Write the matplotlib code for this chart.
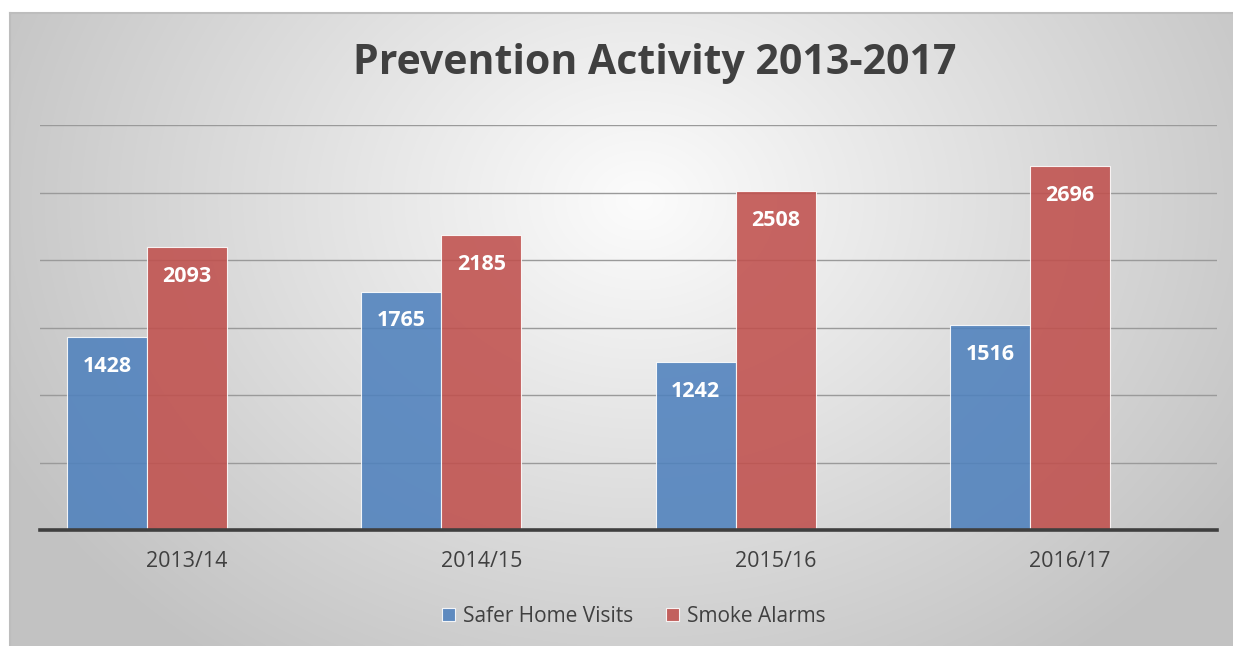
import matplotlib.pyplot as plt
import numpy as np

# Prevention activity per financial year
years = ["2013/14", "2014/15", "2015/16", "2016/17"]
home_visits = [1428, 1765, 1242, 1516]
smoke_alarms = [2093, 2185, 2508, 2696]

plt.rcParams["font.family"] = ["Open Sans", "DejaVu Sans"]
W, H = 1233, 646
fig = plt.figure(figsize=(W / 100, H / 100), dpi=100)
fig.patch.set_facecolor("white")

# radial grey background behind the chart
bg = fig.add_axes([10 / W, 0, 1 - 10 / W, (H - 13) / H], zorder=0)
yy, xx = np.mgrid[13:H, 10:W]
d = np.hypot(xx - 640, (yy - 200) * 1.25)
shade = 252 - 58 * np.clip(d / 720, 0, 1)
img = np.dstack([shade, shade, shade]) / 255
bg.imshow(img, aspect="auto", extent=(0, 1, 0, 1), origin="upper")
bg.set_xlim(0, 1)
bg.set_ylim(0, 1)
bg.set_xticks([])
bg.set_yticks([])
for side in ["right", "bottom"]:
    bg.spines[side].set_visible(False)
for side in ["left", "top"]:
    bg.spines[side].set_color("#bdbdbd")
    bg.spines[side].set_linewidth(1.5)

ax = fig.add_axes([40 / W, (H - 530) / H, (1217 - 40) / W, (530 - 125) / H], zorder=1)
ax.patch.set_alpha(0)

# bars sit left of the tick: the chart keeps room for an empty third series
x = np.arange(len(years))
width = 0.272
blue = ax.bar(x - width, home_visits, width, color="#4F81BD", alpha=0.88,
              edgecolor="white", linewidth=0.8, label="Safer Home Visits", zorder=2)
red = ax.bar(x, smoke_alarms, width, color="#C0504D", alpha=0.88,
             edgecolor="white", linewidth=0.8, label="Smoke Alarms", zorder=2)

for bars, vals in [(blue, home_visits), (red, smoke_alarms)]:
    for rect, v in zip(bars, vals):
        ax.annotate(str(v), (rect.get_x() + rect.get_width() / 2, v),
                    xytext=(0, -29), textcoords="offset pixels",
                    ha="center", va="center", color="white",
                    fontsize=15.5, fontweight="bold", zorder=3)

ax.set_xlim(-0.5, len(years) - 0.5)
ax.set_ylim(0, 3000)
ax.set_yticks(np.arange(500, 3001, 500))
ax.yaxis.grid(True, color="#9a9a9a", linewidth=1.0, zorder=1)
ax.set_axisbelow(True)
ax.tick_params(axis="y", left=False, labelleft=False)
ax.set_xticks(x)
ax.set_xticklabels(years, fontsize=15.5, color="#404040")
ax.tick_params(axis="x", length=0, pad=15)
for side in ["left", "right", "top"]:
    ax.spines[side].set_visible(False)
ax.spines["bottom"].set_color("#3f3f3f")
ax.spines["bottom"].set_linewidth(2.6)

fig.text(655 / W, 1 - 64 / H, "Prevention Activity 2013-2017", ha="center", va="center",
         fontsize=29.5, fontweight="bold", color="#404040")

fig.legend(handles=[blue, red], loc="center", bbox_to_anchor=(634 / W, 1 - 616 / H),
           ncol=2, frameon=False, fontsize=15, labelcolor="#404040",
           handlelength=0.6, handleheight=0.6, handletextpad=0.4, columnspacing=1.6)

fig.savefig("out.png", dpi=100)
